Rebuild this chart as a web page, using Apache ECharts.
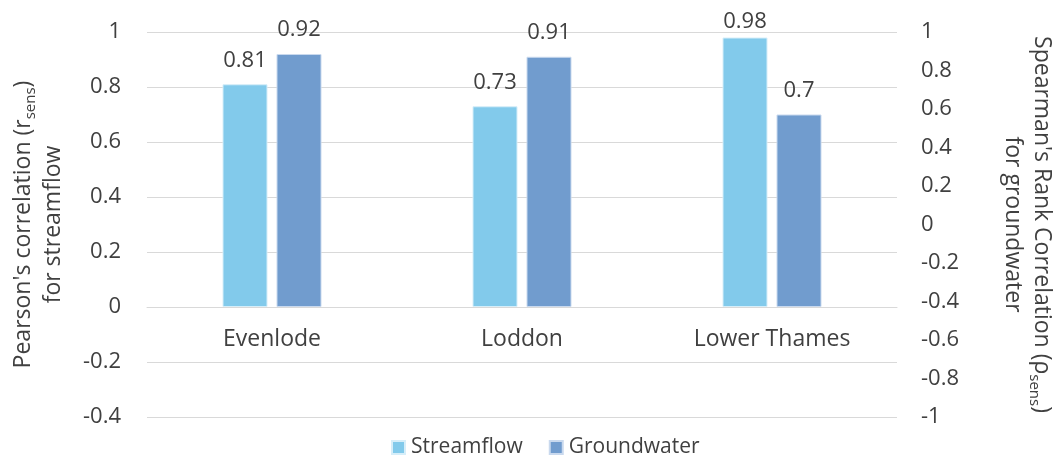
<!DOCTYPE html>
<html>
<head>
<meta charset="utf-8">
<script src="https://cdn.jsdelivr.net/npm/echarts@6/dist/echarts.min.js"></script>
<style>
  html, body { margin: 0; padding: 0; background: #fff; }
  #chart { width: 1055px; height: 456px; }
</style>
</head>
<body>
<div id="chart"></div>
<script>
// Catchments and correlation values
const catchments = ['Evenlode', 'Loddon', 'Lower Thames'];
const streamflow = [0.81, 0.73, 0.98];
const groundwater = [0.92, 0.91, 0.7];

const FONT = '"Open Sans", sans-serif';
const TEXT = '#404040';
const tick = v => String(Math.round(v * 10) / 10);

// Plot area in pixels
const GRID = { left: 147, right: 158, top: 32, bottom: 39 };
const CHART_H = 456;
const LEFT_MIN = -0.4, LEFT_MAX = 1;
// Distance from the bottom of the plot up to the zero line
const plotH = CHART_H - GRID.top - GRID.bottom;
const zeroLift = plotH * (0 - LEFT_MIN) / (LEFT_MAX - LEFT_MIN);

// Value labels are kept below this y so they stay inside the chart
const LABEL_MIN_TOP = 11;
const keepLabelInside = params => {
  const r = params.labelRect;
  return r.y < LABEL_MIN_TOP ? { dy: LABEL_MIN_TOP - r.y } : {};
};

const valueLabel = { show: true, position: 'top', distance: 13, fontFamily: FONT, fontSize: 22, color: TEXT };

const chart = echarts.init(document.getElementById('chart'));
chart.setOption({
  animation: false,
  textStyle: { fontFamily: FONT },
  grid: Object.assign({ outerBoundsMode: 'none', containLabel: false }, GRID),
  legend: {
    top: 437,
    left: 391,
    padding: 0,
    icon: 'rect',
    itemWidth: 13,
    itemHeight: 13,
    itemGap: 26,
    textStyle: { fontFamily: FONT, fontSize: 21, color: TEXT, padding: [0, 0, 0, 1] },
    data: ['Streamflow', 'Groundwater']
  },
  xAxis: {
    type: 'category',
    data: catchments,
    position: 'bottom',
    offset: -zeroLift,
    axisLine: { onZero: false, lineStyle: { color: '#d9d9d9' } },
    axisTick: { show: false },
    axisLabel: { fontFamily: FONT, fontSize: 23, color: TEXT, margin: 21 }
  },
  yAxis: [
    {
      type: 'value',
      min: LEFT_MIN, max: LEFT_MAX, interval: 0.2,
      axisLine: { show: false },
      axisTick: { show: false },
      splitLine: { lineStyle: { color: '#d9d9d9', width: 1 } },
      axisLabel: { fontFamily: FONT, fontSize: 22, color: TEXT, margin: 26, formatter: tick },
      name: "Pearson's correlation (r{sub|sens})\nfor streamflow",
      nameLocation: 'middle',
      nameRotate: 90,
      nameGap: 79,
      nameTextStyle: {
        fontFamily: FONT, fontSize: 23, color: TEXT, lineHeight: 30, align: 'center',
        rich: { sub: { fontFamily: FONT, fontSize: 15, color: TEXT, verticalAlign: 'bottom', lineHeight: 30 } }
      }
    },
    {
      type: 'value',
      min: -1, max: 1, interval: 0.2,
      axisLine: { show: false },
      axisTick: { show: false },
      splitLine: { show: false },
      axisLabel: { fontFamily: FONT, fontSize: 22, color: TEXT, margin: 24, formatter: tick },
      name: "Spearman's Rank Correlation (\u03c1{sub|sens})\nfor groundwater",
      nameLocation: 'middle',
      nameRotate: -90,
      nameGap: 101,
      nameTextStyle: {
        fontFamily: FONT, fontSize: 23, color: TEXT, lineHeight: 29, align: 'center',
        rich: { sub: { fontFamily: FONT, fontSize: 15, color: TEXT, verticalAlign: 'bottom', lineHeight: 29 } }
      }
    }
  ],
  series: [
    {
      name: 'Streamflow',
      type: 'bar',
      yAxisIndex: 0,
      data: streamflow,
      barWidth: 45,
      barGap: '20%',
      itemStyle: { color: '#82CAEB', borderColor: '#d6eef9', borderWidth: 1 },
      label: valueLabel,
      labelLayout: keepLabelInside
    },
    {
      name: 'Groundwater',
      type: 'bar',
      yAxisIndex: 0,
      data: groundwater,
      barWidth: 45,
      barGap: '20%',
      itemStyle: { color: '#719CCE', borderColor: '#c9d9ee', borderWidth: 1 },
      label: valueLabel,
      labelLayout: keepLabelInside
    }
  ]
});
</script>
</body>
</html>
